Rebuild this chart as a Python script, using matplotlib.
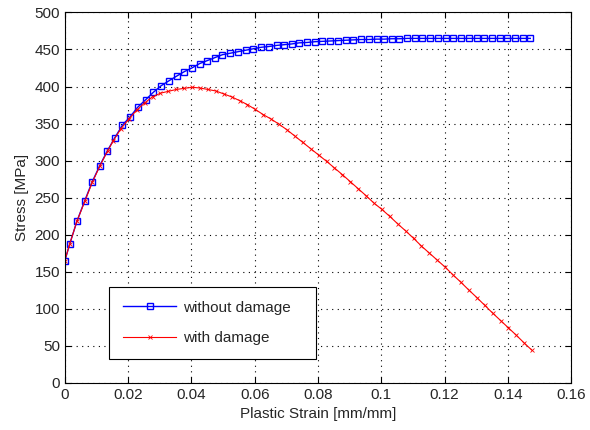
import matplotlib
matplotlib.use('Agg')
import matplotlib.pyplot as plt

plt.rcParams['font.family'] = ['Liberation Sans', 'DejaVu Sans']

# without damage
strain_nd = [0, 0.0015, 0.0038, 0.0062, 0.0086, 0.0110, 0.0134, 0.0158, 0.0182, 0.0206,
             0.0230, 0.0255, 0.0279, 0.0304, 0.0328, 0.0353, 0.0377, 0.0401, 0.0426, 0.0450,
             0.0474, 0.0498, 0.0523, 0.0547, 0.0571, 0.0596, 0.0620, 0.0644, 0.0669, 0.0693,
             0.0717, 0.0741, 0.0766, 0.0790, 0.0814, 0.0839, 0.0863, 0.0887, 0.0912, 0.0936,
             0.0960, 0.0985, 0.1009, 0.1033, 0.1057, 0.1082, 0.1106, 0.1130, 0.1155, 0.1179,
             0.1203, 0.1228, 0.1252, 0.1276, 0.1301, 0.1325, 0.1349, 0.1374, 0.1398, 0.1422,
             0.1447, 0.1471]
stress_nd = [165, 187, 218, 245, 271, 293, 313, 331, 348, 359,
             372, 382, 392, 401, 407.5, 414, 420, 425, 431, 435,
             439, 443, 445, 447, 449, 451, 453, 454, 455.5, 456.5,
             457.5, 459, 459.5, 460.5, 461, 461.5, 462, 462.5, 463, 463.5,
             463.5, 464, 464, 464.5, 464.5, 465, 465, 465, 465, 465,
             465, 465, 465, 465, 465, 465, 465, 465, 465, 465,
             465, 465]

# with damage
strain_d = [0, 0.0015, 0.0038, 0.0063, 0.0087, 0.0111, 0.0135, 0.0152, 0.0177, 0.0202,
            0.0227, 0.0252, 0.0277, 0.0302, 0.0327, 0.0352, 0.0377, 0.0402, 0.0427, 0.0452,
            0.0477, 0.0502, 0.0527, 0.0552, 0.0577, 0.0602, 0.0627, 0.0652, 0.0677, 0.0702,
            0.0727, 0.0752, 0.0777, 0.0802, 0.0827, 0.0852, 0.0877, 0.0902, 0.0927, 0.0952,
            0.0977, 0.1002, 0.1027, 0.1052, 0.1077, 0.1102, 0.1127, 0.1152, 0.1177, 0.1202,
            0.1227, 0.1252, 0.1277, 0.1302, 0.1327, 0.1352, 0.1377, 0.1402, 0.1427, 0.1452,
            0.1477]
stress_d = [165, 187, 218, 245, 271, 293, 313, 326, 343, 356,
            368, 378, 386, 391, 393.5, 396, 397.5, 399, 398, 396,
            394, 390, 386, 381, 375.5, 369, 362, 356, 349, 341.5,
            333, 324.5, 316, 307.5, 299, 290, 281, 271.5, 262, 252.5,
            242.5, 234, 224.5, 214.5, 205, 195, 184.5, 175, 165.5, 156,
            145.5, 135.5, 125, 115, 104.5, 94, 84, 74, 64, 53.5,
            43.5]

txt = '#262626'

fig = plt.figure(figsize=(5.9, 4.3), dpi=100)
ax = fig.add_axes([0.110, 0.110, 0.858, 0.861])

ax.plot(strain_nd, stress_nd, '-', color='#0000ff', lw=1.0, marker='s', ms=4.5,
        mfc='none', mec='#0000ff', mew=1.0, label='without damage')
ax.plot(strain_d, stress_d, '-', color='#ff0000', lw=0.8, marker='x', ms=2.5,
        mew=0.6, label='with damage')

ax.set_xlim(0, 0.16)
ax.set_ylim(0, 500)
ax.set_xticks([0, 0.02, 0.04, 0.06, 0.08, 0.1, 0.12, 0.14, 0.16])
ax.set_xticklabels(['0', '0.02', '0.04', '0.06', '0.08', '0.1', '0.12', '0.14', '0.16'])
ax.set_yticks(range(0, 501, 50))

ax.grid(True, linestyle=(0, (1, 4)), color='black', lw=0.8)
ax.tick_params(direction='in', top=True, right=True, labelsize=11, length=4,
               labelcolor=txt)
for s in ax.spines.values():
    s.set_linewidth(0.8)

ax.set_xlabel('Plastic Strain [mm/mm]', fontsize=11, color=txt)
ax.set_ylabel('Stress [MPa]', fontsize=11, color=txt)

leg = ax.legend(loc='lower left', bbox_to_anchor=(0.0875, 0.0635, 0.408, 0.191),
                mode='expand', borderaxespad=0,
                fancybox=False, edgecolor='black', framealpha=1, fontsize=11,
                handlelength=3.5, handletextpad=0.4, labelspacing=1.1, borderpad=0.9)
leg.get_frame().set_linewidth(0.8)
for t in leg.get_texts():
    t.set_color(txt)

fig.savefig('out.png', dpi=100)
